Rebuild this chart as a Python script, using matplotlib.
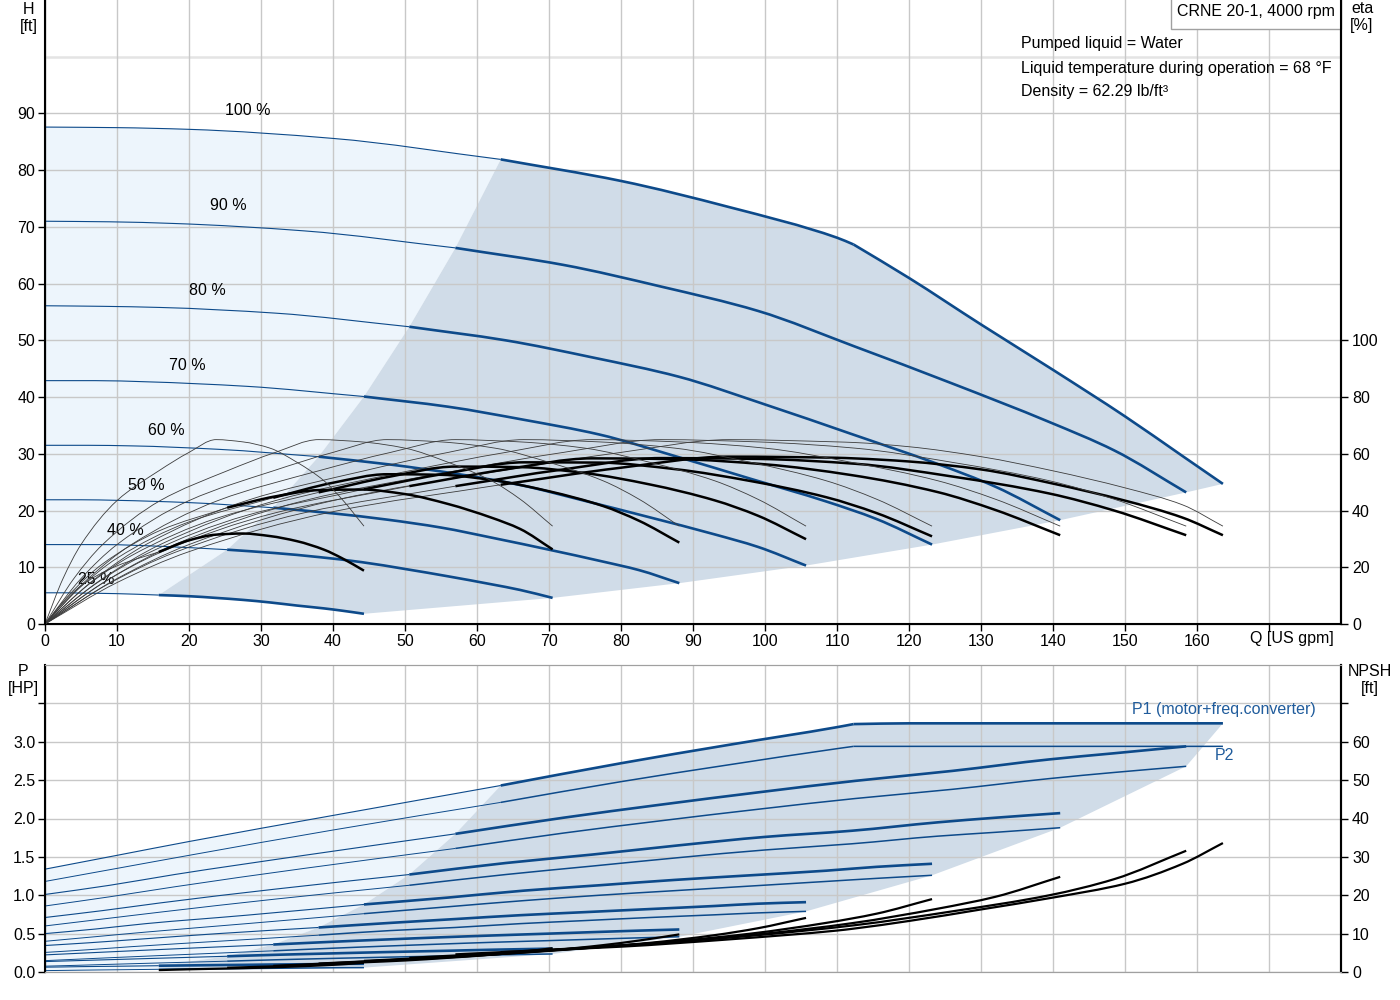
import matplotlib
matplotlib.use('Agg')
import matplotlib.pyplot as plt
from matplotlib.patches import Polygon, PathPatch, Rectangle
from matplotlib.path import Path
from matplotlib.transforms import blended_transform_factory

plt.rcParams['font.family'] = ['Liberation Sans', 'DejaVu Sans']
plt.rcParams['font.size'] = 11.5

# --- data (index 4 = start of the thick part) ---
SPEEDS = ['100 %', '90 %', '80 %', '70 %', '60 %', '50 %', '40 %', '25 %']

Q_100 = [0, 10, 20, 40, 63.3, 80, 95, 110, 112.3, 120, 130, 140, 150, 158, 163.6]
H_100 = [87.6, 87.5, 87.2, 85.6, 81.9, 78.1, 73.5, 68.1, 66.9, 61.0, 52.8, 44.8, 36.6, 29.6, 24.7]
ETA_PUMP_100 = [0, 16, 28, 43.5, 54, 60.5, 65, 64.2, 64.0, 62.5, 59, 54, 48, 42, 34.5]
ETA_TOT_100 = [0, 14.6, 25.5, 39.6, 49.1, 55.1, 59.0, 58.6, 58.4, 57.3, 54.5, 49.5, 43.5, 37.5, 31.3]
P1_100 = [1.34, 1.52, 1.70, 2.04, 2.43, 2.72, 2.96, 3.19, 3.23, 3.24, 3.24, 3.24, 3.24, 3.24, 3.24]
P2_100 = [1.18, 1.35, 1.52, 1.85, 2.21, 2.48, 2.70, 2.91, 2.94, 2.94, 2.94, 2.94, 2.94, 2.94, 2.94]
NPSH_100 = [5.2, 6.6, 8.5, 10.8, 11.3, 13.3, 16.3, 19.4, 23.0, 28.2, 33.6]
KINK_100 = 8  # power limit reached at 112.3 US gpm

# pump-only efficiency, same values for the 25..90 % curves
ETA_PUMP = [0, 16, 28, 43.5, 54, 60.5, 65, 64.2, 62, 57, 50.5, 44, 34.5]

Q_90 = [0, 9, 18, 36, 57, 72, 85.5, 99, 112.5, 126, 139.5, 148.5, 158.5]
H_90 = [71.0, 70.9, 70.6, 69.3, 66.3, 63.3, 59.5, 55.2, 48.9, 42.4, 35.6, 30.6, 23.2]
ETA_TOT_90 = [0, 14.4, 25.2, 39.2, 48.6, 54.5, 58.5, 58.2, 56.5, 52.0, 46.0, 40.0, 31.3]
P1_90 = [1.01, 1.13, 1.27, 1.52, 1.80, 2.01, 2.18, 2.34, 2.49, 2.62, 2.77, 2.85, 2.94]
P2_90 = [0.86, 0.98, 1.11, 1.35, 1.61, 1.81, 1.97, 2.12, 2.26, 2.38, 2.52, 2.60, 2.68]
NPSH_90 = [4.6, 6.0, 7.6, 9.6, 12.2, 15.8, 20.0, 24.2, 31.6]

Q_80 = [0, 8, 16, 32, 50.6, 64, 76, 88, 100, 112, 124, 132, 141]
H_80 = [56.1, 56.0, 55.8, 54.8, 52.4, 50.0, 47.0, 43.6, 38.7, 33.5, 28.2, 24.2, 18.3]
ETA_TOT_80 = [0, 14.4, 25.2, 39.2, 48.6, 54.5, 58.4, 58.1, 56.3, 52.5, 46.5, 40.2, 31.3]
P1_80 = [0.71, 0.80, 0.90, 1.08, 1.27, 1.42, 1.53, 1.65, 1.76, 1.84, 1.95, 2.01, 2.07]
P2_80 = [0.60, 0.69, 0.78, 0.95, 1.13, 1.27, 1.38, 1.49, 1.59, 1.67, 1.77, 1.82, 1.88]
NPSH_80 = [3.7, 5.0, 6.4, 8.0, 10.0, 12.7, 16.5, 19.6, 24.8]

Q_70 = [0, 7, 14, 28, 44.3, 56, 66.5, 77, 87.5, 98, 108.5, 115.5, 123.2]
H_70 = [42.9, 42.9, 42.7, 41.9, 40.1, 38.3, 36.0, 33.4, 29.6, 25.6, 21.6, 18.5, 14.0]
ETA_TOT_70 = [0, 14.1, 24.6, 38.3, 47.5, 53.2, 57.0, 56.9, 54.6, 50.4, 44.7, 39.1, 30.9]
P1_70 = [0.50, 0.56, 0.63, 0.74, 0.88, 0.97, 1.06, 1.13, 1.20, 1.26, 1.32, 1.37, 1.41]
P2_70 = [0.40, 0.46, 0.52, 0.63, 0.76, 0.85, 0.93, 1.00, 1.06, 1.12, 1.18, 1.22, 1.26]
NPSH_70 = [2.9, 4.0, 5.2, 6.5, 8.0, 10.0, 12.8, 15.2, 19.0]

Q_60 = [0, 6, 12, 24, 38, 48, 57, 66, 75, 84, 93, 99, 105.7]
H_60 = [31.5, 31.5, 31.4, 30.8, 29.5, 28.1, 26.5, 24.5, 21.7, 18.8, 15.8, 13.6, 10.3]
ETA_TOT_60 = [0, 13.8, 24.1, 37.4, 46.4, 52.0, 55.5, 55.3, 53.2, 49.2, 43.6, 38.2, 29.9]
P1_60 = [0.345, 0.38, 0.42, 0.50, 0.58, 0.64, 0.69, 0.74, 0.78, 0.82, 0.86, 0.89, 0.91]
P2_60 = [0.255, 0.29, 0.33, 0.40, 0.48, 0.54, 0.58, 0.63, 0.67, 0.71, 0.745, 0.77, 0.79]
NPSH_60 = [2.2, 3.1, 4.0, 5.0, 6.2, 7.6, 9.6, 11.4, 14.1]

Q_50 = [0, 5, 10, 20, 31.7, 40, 47.5, 55, 62.5, 70, 77.5, 82.5, 88.1]
H_50 = [21.9, 21.9, 21.8, 21.4, 20.5, 19.5, 18.4, 17.0, 15.1, 13.1, 11.0, 9.5, 7.2]
ETA_TOT_50 = [0, 13.2, 23.2, 36.0, 44.5, 49.8, 52.8, 52.6, 50.6, 46.8, 41.6, 36.4, 28.7]
P1_50 = [0.223, 0.245, 0.267, 0.31, 0.358, 0.394, 0.424, 0.452, 0.477, 0.50, 0.524, 0.539, 0.554]
P2_50 = [0.148, 0.169, 0.19, 0.23, 0.276, 0.31, 0.338, 0.364, 0.388, 0.409, 0.431, 0.445, 0.459]
NPSH_50 = [1.6, 2.3, 3.0, 3.7, 4.6, 5.6, 7.0, 8.2, 9.8]

Q_40 = [0, 4, 8, 16, 25.3, 32, 38, 44, 50, 56, 62, 66, 70.5]
H_40 = [14.0, 14.0, 14.0, 13.7, 13.1, 12.5, 11.8, 10.9, 9.7, 8.4, 7.0, 6.0, 4.6]
ETA_TOT_40 = [0, 12.0, 21.2, 33.0, 41.0, 45.0, 47.2, 47.4, 45.8, 42.3, 37.5, 33.5, 26.3]
P1_40 = [0.136, 0.147, 0.158, 0.18, 0.205, 0.224, 0.238, 0.252, 0.265, 0.277, 0.29, 0.297, 0.305]
P2_40 = [0.076, 0.086, 0.097, 0.118, 0.141, 0.159, 0.173, 0.186, 0.198, 0.209, 0.221, 0.228, 0.235]
NPSH_40 = [1.1, 1.5, 2.0, 2.5, 3.0, 3.7, 4.5, 5.2, 6.2]

Q_25 = [0, 2.5, 5, 10, 15.8, 20, 23.75, 27.5, 31.25, 35, 38.75, 41.25, 44.3]
H_25 = [5.5, 5.5, 5.45, 5.35, 5.1, 4.9, 4.6, 4.25, 3.8, 3.25, 2.75, 2.35, 1.8]
ETA_TOT_25 = [0, 7.5, 13.5, 20.5, 25.4, 29.5, 31.5, 31.9, 31.0, 29.2, 26.2, 23.2, 18.8]
P1_25 = [0.063, 0.066, 0.07, 0.075, 0.082, 0.086, 0.09, 0.093, 0.097, 0.10, 0.103, 0.106, 0.107]
P2_25 = [0.018, 0.021, 0.024, 0.029, 0.035, 0.039, 0.042, 0.045, 0.048, 0.051, 0.054, 0.056, 0.057]
NPSH_25 = [0.5, 0.7, 0.85, 1.0, 1.2, 1.45, 1.75, 2.0, 2.4]

Q = [Q_100, Q_90, Q_80, Q_70, Q_60, Q_50, Q_40, Q_25]
H = [H_100, H_90, H_80, H_70, H_60, H_50, H_40, H_25]
ETA_P = [ETA_PUMP_100] + [ETA_PUMP] * 7
ETA_T = [ETA_TOT_100, ETA_TOT_90, ETA_TOT_80, ETA_TOT_70, ETA_TOT_60, ETA_TOT_50, ETA_TOT_40, ETA_TOT_25]
P1 = [P1_100, P1_90, P1_80, P1_70, P1_60, P1_50, P1_40, P1_25]
P2 = [P2_100, P2_90, P2_80, P2_70, P2_60, P2_50, P2_40, P2_25]
NPSH = [NPSH_100, NPSH_90, NPSH_80, NPSH_70, NPSH_60, NPSH_50, NPSH_40, NPSH_25]

BLUE = '#0d4a8a'
TXT_BLUE = '#205c9c'
LIGHT = '#edf5fc'
DARK = '#d0dce8'
GRID = '#c8c8c8'
S = 4  # index where the thick part starts


def curve(axis, x, y, **kw):
    # draw the read points as a smooth bezier path (monotone cubic tangents)
    n = len(x)
    if n < 3:
        axis.plot(x, y, **kw)
        return
    h = [x[i + 1] - x[i] for i in range(n - 1)]
    d = [(y[i + 1] - y[i]) / h[i] for i in range(n - 1)]
    m = [d[0]] + [0.0] * (n - 2) + [d[-1]]
    for i in range(1, n - 1):
        if d[i - 1] * d[i] > 0:
            w1, w2 = 2 * h[i] + h[i - 1], h[i] + 2 * h[i - 1]
            m[i] = (w1 + w2) / (w1 / d[i - 1] + w2 / d[i])
    verts = [(x[0], y[0])]
    codes = [Path.MOVETO]
    for i in range(n - 1):
        verts += [(x[i] + h[i] / 3, y[i] + m[i] * h[i] / 3),
                  (x[i + 1] - h[i] / 3, y[i + 1] - m[i + 1] * h[i] / 3),
                  (x[i + 1], y[i + 1])]
        codes += [Path.CURVE4] * 3
    axis.add_patch(PathPatch(Path(verts, codes), fill=False, capstyle='butt', **kw))


def speed_curve(axis, i, x, y, lw_thin, lw_thick, color):
    # thin part up to the start point, thick part after it (100 % split at the kink)
    curve(axis, x[:S + 1], y[:S + 1], color=color, lw=lw_thin, zorder=3)
    if i == 0:
        curve(axis, x[S:KINK_100 + 1], y[S:KINK_100 + 1], color=color, lw=lw_thick, zorder=3)
        curve(axis, x[KINK_100:], y[KINK_100:], color=color, lw=lw_thick, zorder=3)
    else:
        curve(axis, x[S:], y[S:], color=color, lw=lw_thick, zorder=3)


fig = plt.figure(figsize=(14, 10), dpi=100)
ax = fig.add_axes([45 / 1400, 0.376, 1296 / 1400, 0.624])
ax_eta = ax.twinx()
axp = fig.add_axes([45 / 1400, 0.028, 1296 / 1400, 0.307])
ax_npsh = axp.twinx()

# ---------- top panel: head / efficiency ----------
light = list(zip(Q_100[:S + 1], H_100[:S + 1]))
light += [(q[S], h[S]) for q, h in zip(Q[1:], H[1:])]
light += list(zip(Q_25[S - 1::-1], H_25[S - 1::-1]))
ax.add_patch(Polygon(light, closed=True, fc=LIGHT, ec='none', zorder=1))

dark = [(q[S], h[S]) for q, h in zip(Q[::-1], H[::-1])]
dark += list(zip(Q_100[S + 1:], H_100[S + 1:]))
dark += [(q[-1], h[-1]) for q, h in zip(Q[1:], H[1:])]
dark += list(zip(Q_25[-2:S:-1], H_25[-2:S:-1]))
ax.add_patch(Polygon(dark, closed=True, fc=DARK, ec='none', zorder=1))

for i in range(len(SPEEDS)):
    speed_curve(ax, i, Q[i], H[i], 0.8, 1.9, BLUE)
    curve(ax_eta, Q[i], ETA_P[i], color='#3c3c3c', lw=0.6)
    curve(ax_eta, Q[i][:S + 1], ETA_T[i][:S + 1], color='#3c3c3c', lw=0.6)
    curve(ax_eta, Q[i][S:], ETA_T[i][S:], color='black', lw=1.8)

label_pos = [(28.1, 90.6), (25.4, 73.8), (22.6, 58.8), (19.7, 45.6),
             (16.9, 34.1), (14.1, 24.4), (11.2, 16.5), (7.1, 7.9)]
for name, (x, y) in zip(SPEEDS, label_pos):
    ax.text(x, y, name, ha='center', va='center', zorder=5)

ax.set_xlim(0, 180)
ax.set_ylim(0, 110)
ax.set_xticks(range(0, 180, 10))
ax.set_xticklabels([str(v) for v in range(0, 170, 10)] + [''])
ax.set_yticks(range(0, 100, 10))
ax.grid(True, color=GRID, lw=1)
ax.axhline(100, color='#e4e4e4', lw=1.8, zorder=1.5)
ax.set_axisbelow('line')
ax.spines['top'].set_visible(False)
for sp in ['left', 'bottom', 'right']:
    ax.spines[sp].set_linewidth(1.5)
ax.tick_params(direction='out', length=5, width=1, labelsize=11.5, pad=2)

ax_eta.set_ylim(0, 220)
ax_eta.set_yticks(range(0, 101, 20))
ax_eta.spines['top'].set_visible(False)
ax_eta.spines['right'].set_linewidth(1.5)
ax_eta.tick_params(direction='out', length=5, width=1, labelsize=11.5, pad=3)

trans = blended_transform_factory(ax.transData, ax.transAxes)
ax.text(167.3, -0.024, 'Q [US gpm]', transform=trans, ha='left', va='center')

ax.add_patch(Rectangle((0.8688, 0.9535), 0.1312, 0.06, transform=ax.transAxes, fc='white',
                       ec='#a0a0a0', lw=1, clip_on=False, zorder=6))
ax.text(0.934, 0.9808, 'CRNE 20-1, 4000 rpm', transform=ax.transAxes, ha='center', va='center',
        zorder=7)
info = ['Pumped liquid = Water',
        'Liquid temperature during operation = 68 °F',
        'Density = 62.29 lb/ft³']
for txt, yy in zip(info, [0.9295, 0.891, 0.8526]):
    ax.text(0.7531, yy, txt, transform=ax.transAxes, ha='left', va='center', zorder=6)

fig.text(38 / 1400, 0.998, 'H\n[ft]', ha='right', va='top', multialignment='center',
         linespacing=1.2)
fig.text(1362 / 1400, 0.999, 'eta\n[%]', ha='center', va='top', linespacing=1.15)

# ---------- bottom panel: power / NPSH ----------
light_p = list(zip(Q_100[:S + 1], P1_100[:S + 1]))
light_p += [(q[S], p[S]) for q, p in zip(Q[1:], P1[1:])]
light_p += list(zip(Q_25[S::-1], P2_25[S::-1]))
axp.add_patch(Polygon(light_p, closed=True, fc=LIGHT, ec='none', zorder=1))

dark_p = [(q[S], p[S]) for q, p in zip(Q[::-1], P1[::-1])]
dark_p += list(zip(Q_100[S + 1:], P1_100[S + 1:]))
dark_p += [(q[-1], p[-1]) for q, p in zip(Q[1:], P2[1:])]
dark_p += list(zip(Q_25[-2:S - 1:-1], P2_25[-2:S - 1:-1]))
axp.add_patch(Polygon(dark_p, closed=True, fc=DARK, ec='none', zorder=1))

for i in range(len(SPEEDS)):
    speed_curve(axp, i, Q[i], P1[i], 0.8, 1.9, BLUE)
    speed_curve(axp, i, Q[i], P2[i], 0.7, 1.1, BLUE)
    curve(ax_npsh, Q[i][S:], NPSH[i], color='black', lw=1.6)

axp.text(151.0, 3.42, 'P1 (motor+freq.converter)', color=TXT_BLUE, ha='left', va='center', zorder=6)
axp.text(162.5, 2.82, 'P2', color=TXT_BLUE, ha='left', va='center', zorder=6)

axp.set_xlim(0, 180)
axp.set_ylim(0, 4.0)
axp.set_xticks(range(0, 180, 10))
axp.set_xticklabels([])
axp.set_yticks([0, 0.5, 1.0, 1.5, 2.0, 2.5, 3.0, 3.5])
axp.set_yticklabels(['0.0', '0.5', '1.0', '1.5', '2.0', '2.5', '3.0', ''])
axp.grid(True, color=GRID, lw=1)
axp.set_axisbelow('line')
axp.tick_params(axis='x', length=0)
axp.tick_params(axis='y', direction='out', length=5, width=1, labelsize=11.5, pad=2)
axp.spines['top'].set_color('#a0a0a0')
axp.spines['bottom'].set_color('#a0a0a0')
axp.spines['left'].set_linewidth(1.5)
axp.spines['right'].set_linewidth(1.5)

ax_npsh.set_ylim(0, 80)
ax_npsh.set_yticks(range(0, 71, 10))
ax_npsh.set_yticklabels([str(v) for v in range(0, 61, 10)] + [''])
ax_npsh.spines['top'].set_color('#a0a0a0')
ax_npsh.spines['bottom'].set_color('#a0a0a0')
ax_npsh.spines['right'].set_linewidth(1.5)
ax_npsh.tick_params(direction='out', length=5, width=1, labelsize=11.5, pad=3)

fig.text(23 / 1400, 1 - 664 / 1000, 'P\n[HP]', ha='center', va='top', linespacing=1.15)
fig.text(1370 / 1400, 1 - 664 / 1000, 'NPSH\n[ft]', ha='center', va='top', linespacing=1.15)

fig.savefig('out.png', dpi=100)
